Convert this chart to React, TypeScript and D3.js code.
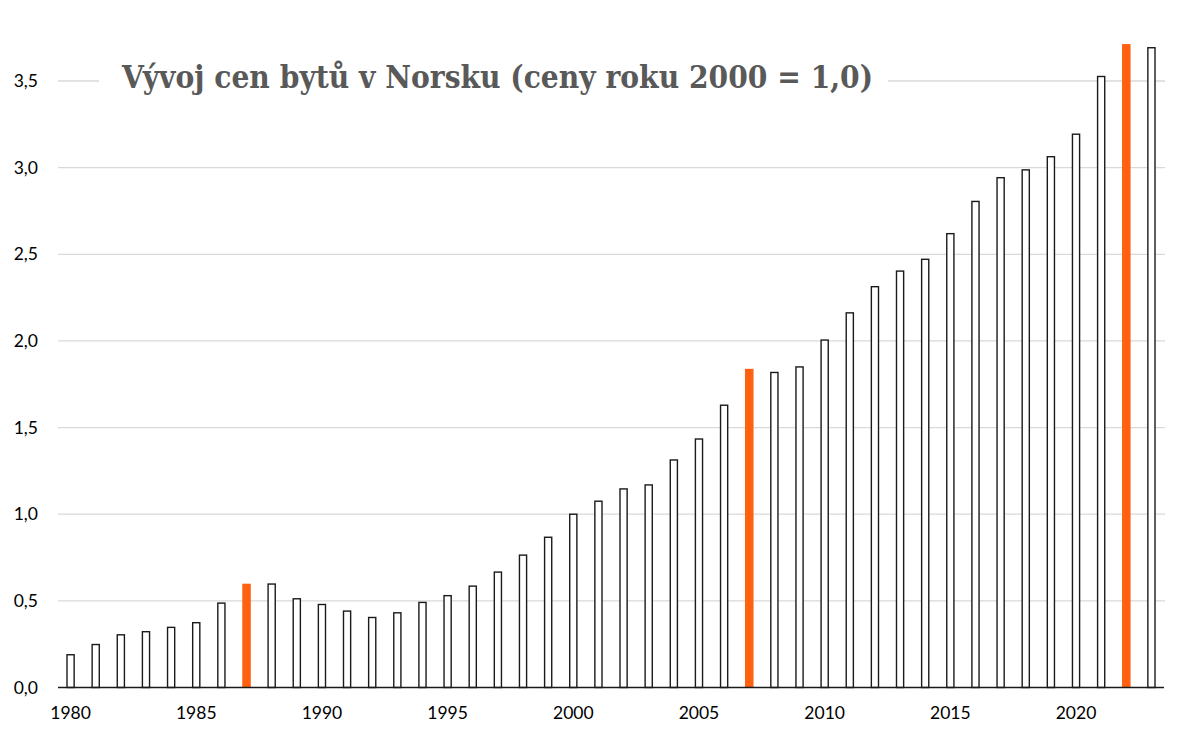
import React from "react";
import * as d3 from "d3";

const years: number[] = d3.range(1980, 2024);
const values: number[] = [
  0.189, 0.248, 0.304, 0.322, 0.347, 0.374, 0.487, 0.599, 0.597, 0.512,
  0.479, 0.441, 0.404, 0.431, 0.491, 0.530, 0.585, 0.666, 0.764, 0.867,
  1.0, 1.075, 1.146, 1.169, 1.313, 1.434, 1.629, 1.839, 1.818, 1.850,
  2.005, 2.162, 2.313, 2.403, 2.471, 2.619, 2.805, 2.942, 2.987, 3.063,
  3.193, 3.526, 3.713, 3.692,
];
const highlighted: number[] = [1987, 2007, 2022];
const yTicks: number[] = [0, 0.5, 1.0, 1.5, 2.0, 2.5, 3.0, 3.5];
const xTickYears: number[] = [1980, 1985, 1990, 1995, 2000, 2005, 2010, 2015, 2020];
const title = "Vývoj cen bytů v Norsku (ceny roku 2000 = 1,0)";

const W = 1200;
const H = 741;
const left = 58;
const right = 1164;
const top = 81;
const bottom = 687.5;

export default function App() {
  const x = d3
    .scaleBand<number>()
    .domain(years)
    .range([left, right])
    .paddingInner(0.66)
    .paddingOuter(0.33);
  const y = d3.scaleLinear().domain([0, 3.5]).range([bottom, top]);
  const fmt = (v: number) => d3.format(".1f")(v).replace(".", ",");

  return (
    <svg
      width={W}
      height={H}
      style={{ position: "absolute", left: 0, top: 0, background: "#fff" }}
    >
      {yTicks.slice(1).map((t) => (
        <line
          key={"g" + t}
          x1={left}
          x2={right + 1}
          y1={y(t)}
          y2={y(t)}
          stroke="#d9d9d9"
          strokeWidth={1.3}
        />
      ))}
      {yTicks.map((t) => (
        <text
          key={"yl" + t}
          x={38}
          y={y(t)}
          dy="0.35em"
          textAnchor="end"
          fontFamily="Lato, 'Open Sans', sans-serif"
          fontSize={17.5}
          fill="#000"
        >
          {fmt(t)}
        </text>
      ))}
      {years.map((yr, i) => {
        const hi = highlighted.includes(yr);
        const bx = x(yr)!;
        const bw = x.bandwidth();
        const by = y(values[i]);
        return hi ? (
          <rect
            key={yr}
            x={bx}
            y={by}
            width={bw}
            height={bottom - by}
            fill="#ff6111"
          />
        ) : (
          <rect
            key={yr}
            x={bx + 0.7}
            y={by}
            width={bw - 1.4}
            height={bottom - by}
            fill="#fff"
            stroke="#1a1a1a"
            strokeWidth={1.4}
          />
        );
      })}
      <line
        x1={left}
        x2={right}
        y1={bottom}
        y2={bottom}
        stroke="#1a1a1a"
        strokeWidth={1.4}
      />
      {xTickYears.map((yr) => (
        <text
          key={"xl" + yr}
          x={x(yr)! + x.bandwidth() / 2}
          y={719}
          textAnchor="middle"
          fontFamily="Lato, 'Open Sans', sans-serif"
          fontSize={17.5}
          fill="#000"
        >
          {yr}
        </text>
      ))}
      <rect x={99} y={58} width={789} height={44} fill="#fff" />
      <text
        x={122}
        y={87.5}
        fontFamily="'DejaVu Serif', 'Liberation Serif', serif"
        fontWeight="bold"
        fontSize={31}
        fill="#595959"
        textLength={751}
        lengthAdjust="spacingAndGlyphs"
      >
        {title}
      </text>
    </svg>
  );
}
